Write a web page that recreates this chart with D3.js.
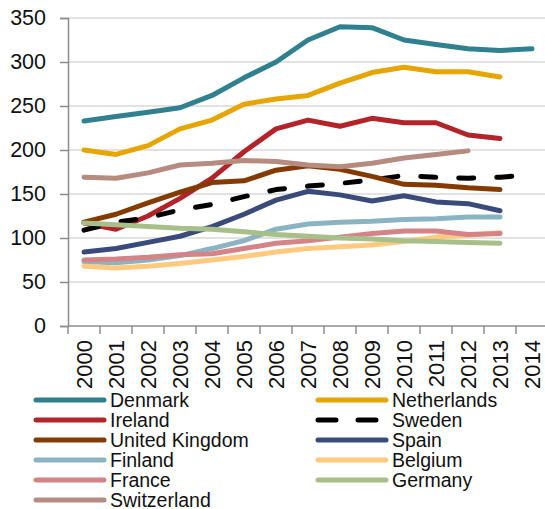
<!DOCTYPE html>
<html>
<head>
  <meta charset="utf-8">
  <script src="https://d3js.org/d3.v7.min.js"></script>
  <style>
    body { margin: 0; background: #fff; }
    text { font-family: "Liberation Sans", Arial, sans-serif; fill: #111; }
  </style>
</head>
<body>
<script>
  // data
  var years = ["2000","2001","2002","2003","2004","2005","2006","2007",
               "2008","2009","2010","2011","2012","2013","2014"];
  var yTicks = [0, 50, 100, 150, 200, 250, 300, 350];

  var denmark     = [233,238,243,248,262,282,300,325,340,339,325,320,315,313,315];
  var netherlands = [200,195,205,224,234,252,258,262,276,288,294,289,289,283,null];
  var ireland     = [117,110,125,145,168,198,224,234,227,236,231,231,217,213,null];
  var sweden      = [109,118,123,132,138,147,155,159,162,166,171,169,168,169,172];
  var uk          = [118,127,140,152,163,165,177,182,178,170,161,160,157,155,null];
  var spain       = [84,88,95,102,113,127,143,153,149,142,148,141,139,131,null];
  var finland     = [73,72,75,80,88,97,110,116,118,119,121,122,124,124,null];
  var belgium     = [68,66,68,71,75,79,84,88,90,92,96,101,103,106,null];
  var france      = [75,76,78,81,82,88,94,97,101,105,108,108,104,105,null];
  var germany     = [117,115,113,111,110,107,104,102,100,99,97,96,95,94,null];
  var switzerland = [169,168,174,183,185,188,187,183,181,185,191,195,199,null,null];

  var series = [
    {name: "Denmark",        values: denmark,     color: "#31808f"},
    {name: "Netherlands",    values: netherlands, color: "#e6a500"},
    {name: "Ireland",        values: ireland,     color: "#b3232a"},
    {name: "Sweden",         values: sweden,      color: "#000000", dash: true},
    {name: "United Kingdom", values: uk,          color: "#843b03"},
    {name: "Spain",          values: spain,       color: "#3a4b7b"},
    {name: "Finland",        values: finland,     color: "#8ab4c2"},
    {name: "Belgium",        values: belgium,     color: "#ffca80"},
    {name: "France",         values: france,      color: "#d48486"},
    {name: "Germany",        values: germany,     color: "#a7c089"},
    {name: "Switzerland",    values: switzerland, color: "#b68b80"}
  ];

  var width = 545, height = 509;
  var plotL = 68, plotR = 548, plotT = 18, plotB = 326;

  var svg = d3.select("body").append("svg")
      .attr("width", width)
      .attr("height", height);

  var x = d3.scaleBand().domain(years).range([plotL, plotR]);
  var y = d3.scaleLinear().domain([0, 350]).range([plotB, plotT]);

  /*
    gridlines
  */
  svg.append("g").selectAll("line")
    .data(yTicks.filter(function (d) { return d > 0; }))
    .enter().append("line")
      .attr("x1", plotL).attr("x2", plotR)
      .attr("y1", function (d) { return y(d); })
      .attr("y2", function (d) { return y(d); })
      .style("stroke", "#d9d9d9")
      .style("stroke-width", 1.5);

  /*
    axes
  */
  var yAxis = svg.append("g")
      .attr("transform", "translate(" + plotL + ",0)")
      .call(d3.axisLeft(y).tickValues(yTicks).tickSize(8).tickPadding(14));
  yAxis.select(".domain").style("stroke", "#8c8c8c").style("stroke-width", 1.5);
  yAxis.selectAll(".tick line").style("stroke", "#8c8c8c").style("stroke-width", 1.5);
  yAxis.selectAll(".tick text")
      .style("font-size", "21.5px")
      .style("font-family", "'Liberation Sans', Arial, sans-serif")
      .style("fill", "#111");

  var xAxis = svg.append("g")
      .attr("transform", "translate(0," + plotB + ")");
  xAxis.append("line")
      .attr("x1", plotL).attr("x2", plotR)
      .style("stroke", "#8c8c8c").style("stroke-width", 1.5);
  xAxis.selectAll(".tk")
    .data(years.concat(["end"]))
    .enter().append("line")
      .attr("class", "tk")
      .attr("x1", function (d, i) { return plotL + i * x.step(); })
      .attr("x2", function (d, i) { return plotL + i * x.step(); })
      .attr("y1", 0).attr("y2", 8)
      .style("stroke", "#8c8c8c").style("stroke-width", 1.5);
  xAxis.selectAll("text")
    .data(years)
    .enter().append("text")
      .attr("transform", function (d) {
        return "translate(" + (x(d) + x.bandwidth() / 2) + ",14) rotate(-90)";
      })
      .attr("text-anchor", "end")
      .attr("dy", "0.36em")
      .style("font-size", "22px")
      .text(function (d) { return d; });

  /*
    lines
  */
  var line = d3.line()
      .defined(function (d) { return d != null; })
      .x(function (d, i) { return x(years[i]) + x.bandwidth() / 2; })
      .y(function (d) { return y(d); });

  svg.append("g").selectAll("path")
    .data(series)
    .enter().append("path")
      .attr("d", function (s) { return line(s.values); })
      .style("fill", "none")
      .style("stroke", function (s) { return s.color; })
      .style("stroke-width", 5)
      .style("stroke-linejoin", "round")
      .style("stroke-linecap", "round")
      .style("stroke-dasharray", function (s) { return s.dash ? "15,23" : null; });

  /*
    legend, two columns filled row by row
  */
  var legend = svg.append("g").selectAll("g")
    .data(series)
    .enter().append("g")
      .attr("transform", function (s, i) {
        var col = i % 2, row = Math.floor(i / 2);
        return "translate(" + (col ? 318 : 36) + "," + (400 + row * 20) + ")";
      });
  legend.append("line")
      .attr("x1", 0).attr("x2", 68)
      .style("stroke", function (s) { return s.color; })
      .style("stroke-width", 5)
      .style("stroke-linecap", "round")
      .style("stroke-dasharray", function (s) { return s.dash ? "18,22" : null; });
  legend.append("text")
      .attr("x", 74)
      .attr("dy", "0.35em")
      .style("font-size", "19.5px")
      .text(function (s) { return s.name; });
</script>
</body>
</html>
